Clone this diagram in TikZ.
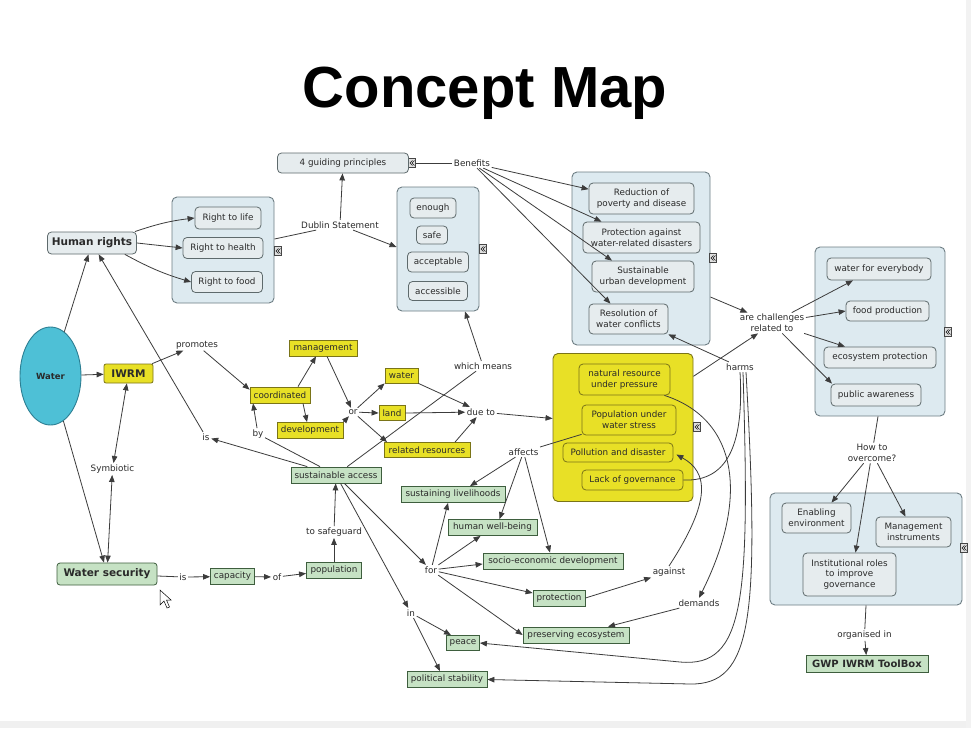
\documentclass[tikz,border=0pt]{standalone}
\usepackage{fontspec}
\setmainfont{DejaVu Sans}
\newfontfamily\titlefont{Liberation Sans}
\usetikzlibrary{arrows.meta,calc,shapes.geometric}
\definecolor{contfill}{HTML}{DDEAF0}
\definecolor{contbd}{HTML}{6E7E84}
\definecolor{concfill}{HTML}{E6ECEE}
\definecolor{concbd}{HTML}{5E6A6C}
\definecolor{yelf}{HTML}{E8E026}
\definecolor{yelbd}{HTML}{7A7418}
\definecolor{grnf}{HTML}{C6E2C4}
\definecolor{grnbd}{HTML}{3E5E3E}
\definecolor{waterf}{HTML}{4EC0D6}
\definecolor{waterbd}{HTML}{2C7E92}
\definecolor{linec}{HTML}{3C3C3C}
\definecolor{txt}{HTML}{2A2A2A}
\newcommand{\cmfs}{\fontsize{8.8}{10.6}\selectfont}
\newcommand{\cmfb}{\fontsize{10.5}{12}\selectfont\bfseries}
\tikzset{
  base/.style={font=\cmfs, inner sep=1pt, text=txt},
  cont/.style={draw=contbd, fill=contfill, rounded corners=5pt, line width=0.9pt},
  ycont/.style={draw=yelbd, fill=yelf, rounded corners=5pt, line width=0.9pt},
  conc/.style={base, draw=concbd, fill=concfill, rounded corners=4pt, line width=0.8pt, align=center},
  yel/.style={base, draw=yelbd, fill=yelf, line width=0.8pt},
  yelr/.style={base, draw=yelbd, fill=yelf, line width=0.8pt, rounded corners=4pt, align=center},
  grn/.style={base, draw=grnbd, fill=grnf, line width=0.8pt},
  lab/.style={base, inner sep=1.5pt, align=center},
  arr/.style={draw=linec, line width=0.8pt, -{Triangle[length=7pt,width=5.5pt]}},
  arrtwo/.style={draw=linec, line width=0.8pt, {Triangle[length=7pt,width=5.5pt]}-{Triangle[length=7pt,width=5.5pt]}},
  ln/.style={draw=linec, line width=0.8pt},
  icon/.style={draw=gray!55!black, fill=gray!25, minimum width=7, minimum height=9, inner sep=0pt, line width=0.5pt},
}
\begin{document}
\begin{tikzpicture}[x=1pt,y=-1pt]
\useasboundingbox (0,0) rectangle (971,728);
\fill[white] (0,0) rectangle (971,728);
\fill[gray!12] (0,721) rectangle (971,728);
\fill[gray!10] (966,0) rectangle (971,728);
% title
\node[font=\titlefont\bfseries\fontsize{58}{60}\selectfont, inner sep=0pt] (title) at (485,93) {Concept Map};
% containers
\node[cont, minimum width=102, minimum height=106] (A) at (223,250) {};
\node[cont, minimum width=82, minimum height=124] (B) at (438,249) {};
\node[cont, minimum width=138, minimum height=173] (C) at (641,258.5) {};
\node[cont, minimum width=130, minimum height=169] (D) at (880,331.5) {};
\node[cont, minimum width=192, minimum height=112] (E) at (866,549) {};
\node[ycont, minimum width=140, minimum height=148] (F) at (623,427.5) {};
% icons
\node[icon] (iconA) at (278,251) {};
\node[icon] (iconG) at (412,163) {};
\node[icon] (iconB) at (483,249) {};
\node[icon] (iconC) at (713,258) {};
\node[icon] (iconD) at (948,332) {};
\node[icon] (iconE) at (964,548) {};
\node[icon] (iconF) at (697,427) {};
\foreach \n in {iconA,iconG,iconB,iconC,iconD,iconE,iconF}{
  \draw[gray!20!black, line width=0.4pt] ($(\n.center)+(0.5,-2.5)$) -- ($(\n.center)+(-2,0)$) -- ($(\n.center)+(0.5,2.5)$);
  \draw[gray!20!black, line width=0.4pt] ($(\n.center)+(2.5,-2.5)$) -- ($(\n.center)+(0,0)$) -- ($(\n.center)+(2.5,2.5)$);
}
% water
\node[ellipse, draw=waterbd, fill=waterf, line width=0.9pt, minimum width=61, minimum height=98, inner sep=0pt, font=\fontsize{8.5}{10}\selectfont\bfseries, text=txt] (water) at (50.5,376) {Water};
% grey concepts
\node[conc, font=\cmfb, minimum width=89, minimum height=22] (hr) at (92,243) {Human rights};
\node[conc, minimum width=66, minimum height=22] (rl) at (228,218) {Right to life};
\node[conc, minimum width=80, minimum height=21] (rh) at (223,248) {Right to health};
\node[conc, minimum width=71, minimum height=21] (rf) at (227,282) {Right to food};
\node[conc, minimum width=131, minimum height=20] (guide) at (343,163) {4 guiding principles};
\node[conc, minimum width=46, minimum height=20] (enough) at (433,208) {enough};
\node[conc, minimum width=31, minimum height=18] (safe) at (432,235) {safe};
\node[conc, minimum width=61, minimum height=20] (accp) at (438,262) {acceptable};
\node[conc, minimum width=59, minimum height=19] (accs) at (438,291) {accessible};
\node[conc, minimum width=105, minimum height=31] (red) at (641.5,198.5) {Reduction of\\poverty and disease};
\node[conc, minimum width=117, minimum height=31] (prot) at (641.5,237.5) {Protection against\\water-related disasters};
\node[conc, minimum width=102, minimum height=31] (sus) at (643,276.5) {Sustainable\\urban development};
\node[conc, minimum width=79, minimum height=30] (res) at (628.5,319) {Resolution of\\water conflicts};
\node[conc, minimum width=104, minimum height=22] (wfe) at (879,269) {water for everybody};
\node[conc, minimum width=83, minimum height=20] (food) at (887.5,311) {food production};
\node[conc, minimum width=112, minimum height=21] (eco) at (880,357.5) {ecosystem protection};
\node[conc, minimum width=90, minimum height=22] (pa) at (876,395) {public awareness};
\node[conc, minimum width=69, minimum height=30] (enab) at (816.5,518) {Enabling\\environment};
\node[conc, minimum width=75, minimum height=30] (mgi) at (913.5,532) {Management\\instruments};
\node[conc, minimum width=93, minimum height=43] (inst) at (849.5,574.5) {Institutional roles\\to improve\\governance};
% yellow concepts
\node[yel, font=\cmfb, minimum width=49, minimum height=19, rounded corners=2pt] (iwrm) at (128.5,373.5) {IWRM};
\node[yel, minimum width=60, minimum height=16] (coord) at (280,395) {coordinated};
\node[yel, minimum width=68, minimum height=16] (mgmt) at (323,348) {management};
\node[yel, minimum width=66, minimum height=16] (dev) at (310,430.5) {development};
\node[yel, minimum width=33, minimum height=15] (wat) at (401.5,375.5) {water};
\node[yel, minimum width=26, minimum height=15] (land) at (392,413) {land};
\node[yel, minimum width=86, minimum height=15] (rr) at (427,450) {related resources};
\node[yelr, minimum width=91, minimum height=31] (nr) at (624.5,379.5) {natural resource\\under pressure};
\node[yelr, minimum width=94, minimum height=30] (pws) at (629,420) {Population under\\water stress};
\node[yelr, minimum width=110, minimum height=19] (pol) at (618,452.5) {Pollution and disaster};
\node[yelr, minimum width=101, minimum height=20] (lg) at (632.5,480) {Lack of governance};
% green concepts
\node[grn, font=\cmfb, minimum width=100, minimum height=22, rounded corners=3pt] (ws) at (107,574) {Water security};
\node[grn, minimum width=44, minimum height=16] (cap) at (232.5,576.5) {capacity};
\node[grn, minimum width=55, minimum height=16] (pop) at (334,570) {population};
\node[grn, minimum width=90, minimum height=16] (sa) at (336,475) {sustainable access};
\node[grn, minimum width=104, minimum height=16] (sl) at (453,494.5) {sustaining livelihoods};
\node[grn, minimum width=89, minimum height=16] (hw) at (492.5,527.5) {human well-being};
\node[grn, minimum width=140, minimum height=16] (se) at (553,561) {socio-economic development};
\node[grn, minimum width=52, minimum height=16] (protn) at (559,598) {protection};
\node[grn, minimum width=106, minimum height=16] (pe) at (576,635) {preserving ecosystem};
\node[grn, minimum width=33, minimum height=15] (peace) at (463,643) {peace};
\node[grn, minimum width=80, minimum height=16] (ps) at (447,679.5) {political stability};
\node[grn, font=\fontsize{10}{12}\selectfont\bfseries, minimum width=122, minimum height=17] (gwp) at (867,664) {GWP IWRM ToolBox};
% linking phrases
\node[lab] (benefits) at (472,163) {Benefits};
\node[lab] (dublin) at (340,225) {Dublin Statement};
\node[lab] (ch) at (772,323) {are challenges\\related to};
\node[lab] (howto) at (872,453) {How to\\overcome?};
\node[lab] (org) at (864.5,635) {organised in};
\node[lab] (prom) at (197,345) {promotes};
\node[lab] (sym) at (112.5,469) {Symbiotic};
\node[lab] (lIsB) at (183,577) {is};
\node[lab] (lOf) at (277,577) {of};
\node[lab] (tsg) at (334,532) {to safeguard};
\node[lab] (lIsA) at (206,437) {is};
\node[lab] (lBy) at (258,434) {by};
\node[lab] (lOr) at (353,412) {or};
\node[lab] (dueto) at (481,412) {due to};
\node[lab] (wm) at (483,366) {which means};
\node[lab] (harms) at (740,367) {harms};
\node[lab] (aff) at (523.5,452) {affects};
\node[lab] (lFor) at (431,570) {for};
\node[lab] (lIn) at (411,613) {in};
\node[lab] (ag) at (669,572) {against};
\node[lab] (dem) at (699,603) {demands};
% connectors
\draw[arr] (water) -- (hr);
\draw[arr] (lIsA) -- (hr);
\draw[arr] (water) -- (iwrm);
\draw[arr] (water) -- ([xshift=-3]ws.north);
\draw[arrtwo] (iwrm) -- (sym);
\draw[arrtwo] (sym) -- (ws);
\draw[arr] ([xshift=-2]hr.north east) to[bend left=6] (rl.west);
\draw[arr] (hr.east) -- (rh.west);
\draw[arr] ([xshift=-12]hr.south east) to[bend right=6] (rf.west);
\draw[ln] (A) -- (dublin);
\draw[arr] (dublin) -- (guide);
\draw[arr] (dublin) -- ($(B.west)+(0,-2)$);
\draw[ln] (iconG) -- (benefits);
\draw[arr] (benefits) -- (red.170);
\draw[arr] (benefits) -- ([xshift=-40]prot.north);
\draw[arr] (benefits) -- ([xshift=-31]sus.north);
\draw[arr] (benefits) -- ([xshift=-18]res.north);
\draw[arr] (C.-29) -- (ch);
\draw[arr] (ch) -- ([xshift=-26]wfe.south);
\draw[arr] (ch) -- (food.west);
\draw[arr] (ch) -- ([xshift=-35]eco.north);
\draw[arr] (ch) -- ([xshift=-44]pa.north);
\draw[ln] ([xshift=-2]D.south) -- (howto);
\draw[arr] (howto) -- ([xshift=15]enab.north);
\draw[arr] (howto) -- ([xshift=-8]mgi.north);
\draw[arr] (howto) -- ([xshift=6]inst.north);
\draw[ln] (E.south) -- (org);
\draw[arr] (org) -- (gwp);
\draw[arr] (iwrm) -- (prom);
\draw[arr] (prom) -- (coord.170);
\draw[arr] (sa) -- (lIsA);
\draw[ln] (sa) -- (lBy);
\draw[arr] (lBy) -- ([xshift=-27]coord.south);
\draw[arr] ([xshift=18]coord.north) -- ([xshift=-7]mgmt.south);
\draw[arr] ([xshift=23]coord.south) -- ([xshift=-3]dev.north);
\draw[arr] ([xshift=4]mgmt.south) -- (lOr);
\draw[arr] (dev.north east) -- (lOr);
\draw[arr] (lOr) -- (wat.south west);
\draw[arr] (lOr) -- (land.west);
\draw[arr] (lOr) -- ([xshift=-40]rr.north);
\draw[arr] (wat.south east) -- (dueto);
\draw[arr] (land.east) -- (dueto);
\draw[arr] ([xshift=28]rr.north) -- (dueto);
\draw[arr] (dueto) -- ($(F.west)+(0,-9)$);
\draw[ln] (sa) -- (wm);
\draw[arr] (wm) -- ([xshift=27]B.south);
\draw[ln] (pws) -- (aff);
\draw[arr] (aff) -- ([xshift=17]sl.north);
\draw[arr] (aff) -- ([xshift=7]hw.north);
\draw[arr] (aff) -- ([xshift=-3]se.north);
\draw[arr] (pop) -- (tsg);
\draw[arr] (tsg) -- (sa);
\draw[ln] (ws) -- (lIsB);
\draw[arr] (lIsB) -- (cap);
\draw[arr] (cap) -- (lOf);
\draw[arr] (lOf) -- (pop);
\draw[arr] (sa) -- (lFor);
\draw[arr] (sa) -- (lIn);
\draw[arr] (lFor) -- ([xshift=-5]sl.south);
\draw[arr] (lFor) -- ([xshift=-12]hw.south);
\draw[arr] (lFor) -- ($(se.west)+(0,3)$);
\draw[arr] (lFor) -- ($(protn.west)+(0,-5)$);
\draw[arr] (lFor) -- (pe.west);
\draw[arr] (lIn) -- ([xshift=-12]peace.north);
\draw[arr] (lIn) -- ([xshift=-7]ps.north);
\draw[arr] (protn.east) -- (ag);
\draw[arr] (ag.north) .. controls (712,500) and (708,472) .. ($(pol.east)+(3,2)$);
\draw[arr] ([xshift=-6]nr.south east) .. controls (740,420) and (748,500) .. (dem.north);
\draw[arr] (dem) -- ([xshift=32]pe.north);
\draw[ln] (lg.east) .. controls (730,482) and (744,440) .. (harms.south);
\draw[arr] (harms) -- (res.south east);
\draw[arr] ($(harms.south)+(3,0)$) .. controls (750,600) and (745,668) .. (680,662) -- (peace.east);
\draw[arr] ($(harms.south)+(6,0)$) .. controls (760,620) and (752,685) .. (690,684) -- (ps.east);
\draw[arr] (F.36) -- ($(ch.south)+(-14,0)$);
% mouse cursor
\draw[fill=white, line width=0.5pt] (160,590) -- (160,605) -- (164,601) -- (167,608) -- (169.5,607) -- (166.5,600) -- (171,600) -- cycle;
\end{tikzpicture}
\end{document}
